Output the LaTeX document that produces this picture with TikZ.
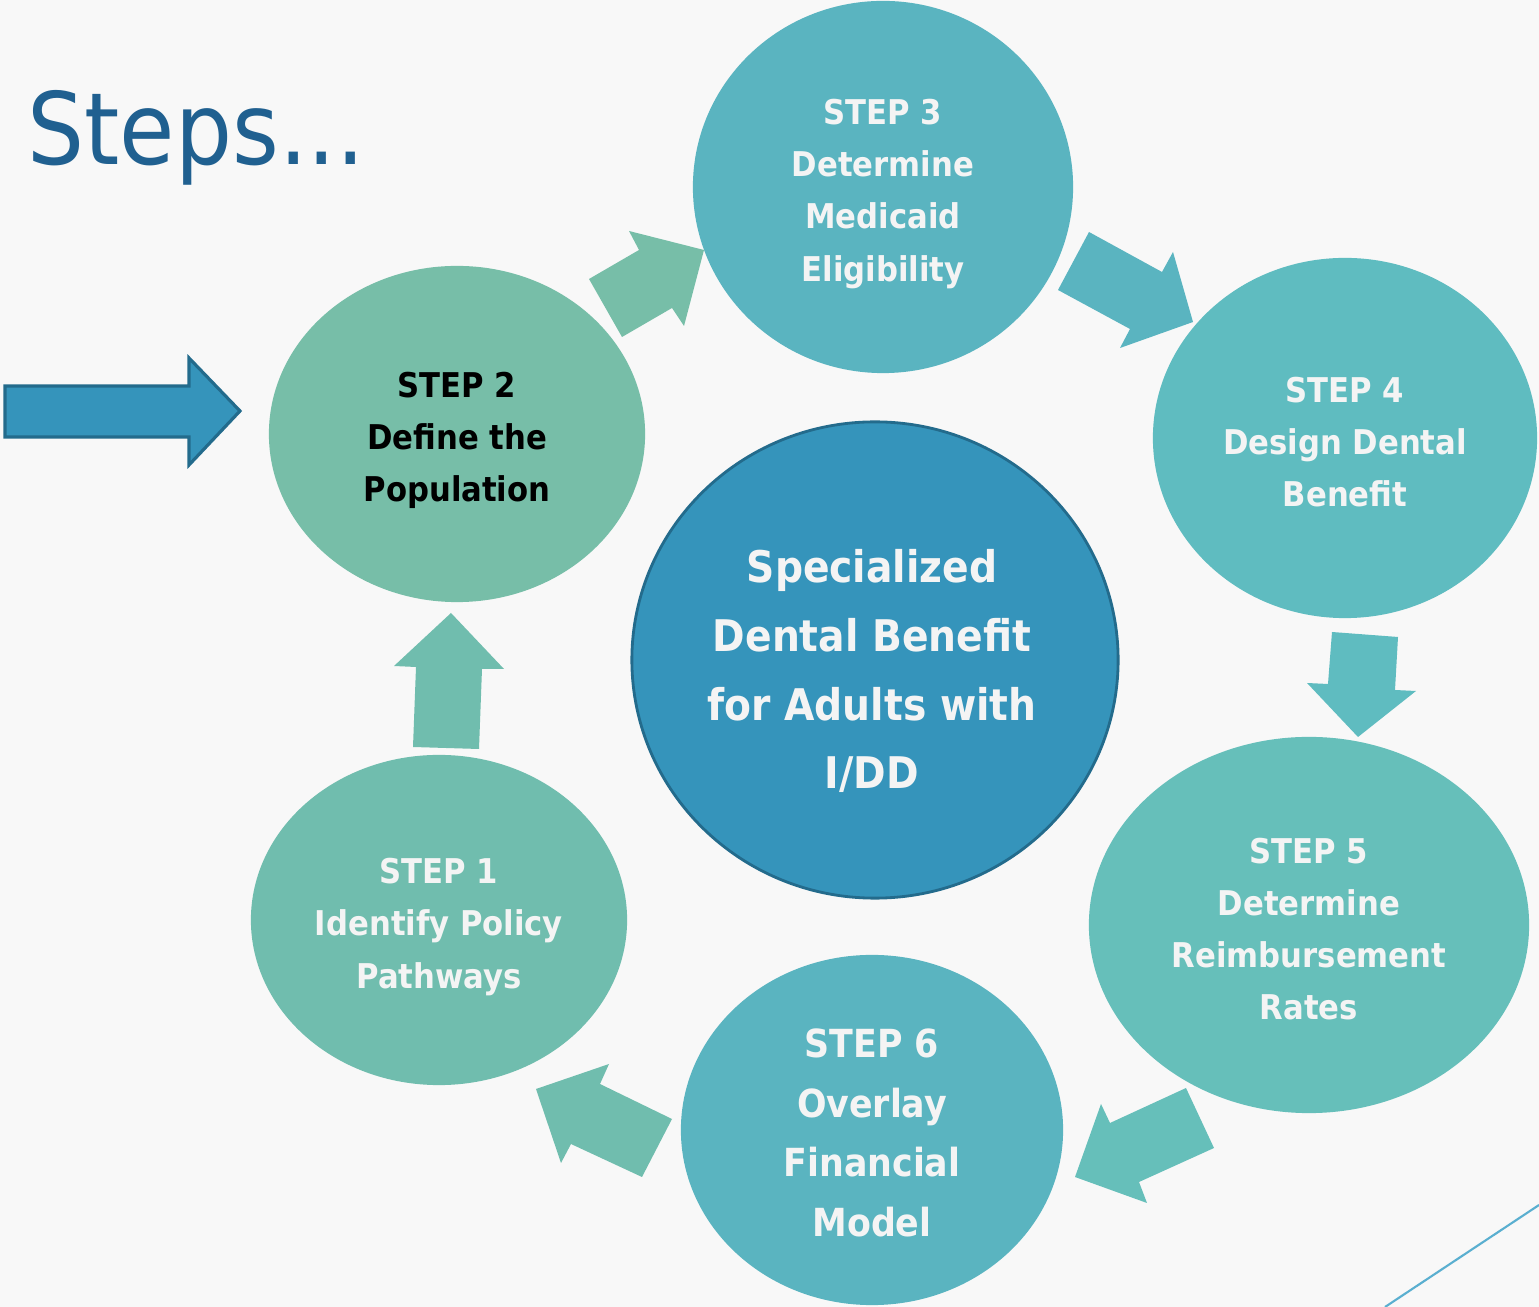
\documentclass[tikz,border=0pt]{standalone}
\usepackage{fontspec}
\setmainfont{DejaVu Sans Condensed}
\usetikzlibrary{shapes.geometric}

\definecolor{bgcol}{RGB}{248,248,248}
\definecolor{titleblue}{RGB}{32,96,144}
\definecolor{txtwhite}{RGB}{244,244,244}
\definecolor{greenA}{RGB}{119,190,168}
\definecolor{greenB}{RGB}{112,189,174}
\definecolor{tealA}{RGB}{90,180,192}
\definecolor{tealB}{RGB}{95,188,192}
\definecolor{tealC}{RGB}{102,191,186}
\definecolor{hubblue}{RGB}{53,148,187}
\definecolor{hubdark}{RGB}{35,107,140}
\definecolor{slidecol}{RGB}{90,175,208}

\begin{document}
\begin{tikzpicture}[x=0.01cm,y=-0.01cm,
    stepcirc/.style={ellipse, inner sep=0pt},
    steptxt/.style={align=center, text=txtwhite, inner sep=0pt,
      font=\bfseries\fontsize{9.7}{14.8}\selectfont},
    hubcirc/.style={ellipse, inner sep=0pt, draw=hubdark, line width=0.8pt, fill=hubblue}]
    \fill[bgcol] (0,0) rectangle (1539,1307);
    \useasboundingbox (0,0) rectangle (1539,1307);

    % title
    \node[anchor=base west, inner sep=0pt, text=titleblue,
      font=\fontsize{28.4}{28.4}\selectfont] (title) at (27,165) {Steps...};

    % steps
    \node[stepcirc, fill=greenB, minimum width=3.76cm, minimum height=3.30cm] (s1) at (439,920) {};
    \node[stepcirc, fill=greenA, minimum width=3.76cm, minimum height=3.36cm] (s2) at (457,434) {};
    \node[stepcirc, fill=tealA, minimum width=3.80cm, minimum height=3.72cm] (s3) at (883,187) {};
    \node[stepcirc, fill=tealB, minimum width=3.84cm, minimum height=3.60cm] (s4) at (1345,438) {};
    \node[stepcirc, fill=tealC, minimum width=4.40cm, minimum height=3.76cm] (s5) at (1309,925) {};
    \node[stepcirc, fill=tealA, minimum width=3.82cm, minimum height=3.50cm] (s6) at (872,1130) {};

    \node[steptxt] (s1txt) at (439,927) {STEP 1\\Identify Policy\\Pathways};
    \node[steptxt, text=black] (s2txt) at (457,440) {STEP 2\\Define the\\Population};
    \node[steptxt] (s3txt) at (883,194) {STEP 3\\Determine\\Medicaid\\Eligibility};
    \node[steptxt] (s4txt) at (1345,442) {STEP 4\\Design Dental\\Benefit};
    \node[steptxt] (s5txt) at (1309,929) {STEP 5\\Determine\\Reimbursement\\Rates};
    \node[steptxt, font=\bfseries\fontsize{11}{17}\selectfont] (s6txt) at (872,1133) {STEP 6\\Overlay\\Financial\\Model};

    % hub
    \node[hubcirc, minimum width=4.86cm, minimum height=4.76cm] (hub) at (875,660) {};
    \node[align=center, text=txtwhite, font=\bfseries\fontsize{12.4}{19.6}\selectfont] (hubtxt) at (872,671) {Specialized\\Dental Benefit\\for Adults with\\I/DD};

    % block arrows
    \fill[hubblue, draw=hubdark, line width=0.9pt] (5,386) -- (189,386) -- (189,358) -- (240,411) -- (189,465) -- (189,437) -- (5,437) -- cycle;
    \fill[greenA] (589,279) -- (639,250) -- (629,231) -- (704,250) -- (684,326) -- (672,308) -- (622,337) -- cycle;
    \fill[tealA] (1058,290) -- (1089,232) -- (1162,272) -- (1173,252) -- (1193,322) -- (1120,348) -- (1130,329) -- cycle;
    \fill[tealB] (1332,632) -- (1398,637) -- (1395,690) -- (1416,691) -- (1358,737) -- (1307,683) -- (1328,684) -- cycle;
    \fill[tealC] (1186,1088) -- (1214,1148) -- (1139,1182) -- (1147,1203) -- (1075,1177) -- (1101,1104) -- (1110,1123) -- cycle;
    \fill[greenB] (536,1089) -- (609,1064) -- (600,1084) -- (672,1119) -- (642,1177) -- (571,1144) -- (561,1163) -- cycle;
    \fill[greenB] (451,613) -- (504,669) -- (482,669) -- (479,749) -- (413,747) -- (416,667) -- (394,666) -- cycle;

    % slide line
    \draw[slidecol, line width=0.6pt] (1385,1307) -- (1539,1205);
\end{tikzpicture}
\end{document}
